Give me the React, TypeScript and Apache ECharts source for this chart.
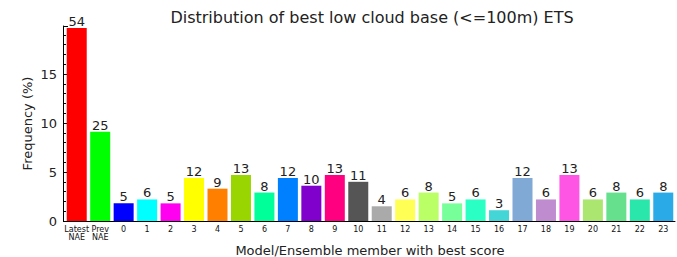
import React, { useEffect, useRef } from "react";
import * as echarts from "echarts";

const categories = ["Latest\nNAE", "Prev\nNAE", "0", "1", "2", "3", "4", "5", "6", "7", "8", "9", "10", "11", "12", "13", "14", "15", "16", "17", "18", "19", "20", "21", "22", "23"];
const frequencies = [19.7, 9.1, 1.8, 2.2, 1.8, 4.4, 3.3, 4.7, 2.9, 4.4, 3.6, 4.7, 4.0, 1.5, 2.2, 2.9, 1.8, 2.2, 1.1, 4.4, 2.2, 4.7, 2.2, 2.9, 2.2, 2.9];
const counts = [54, 25, 5, 6, 5, 12, 9, 13, 8, 12, 10, 13, 11, 4, 6, 8, 5, 6, 3, 12, 6, 13, 6, 8, 6, 8];
const colors = ["#ff0000", "#00ff00", "#0000ff", "#00ffff", "#ff00f0", "#ffff00", "#ff8000", "#99d500", "#00ff99", "#0080ff", "#8000cc", "#ff0080", "#555555", "#aaaaaa", "#ffff55", "#bbff66", "#77ff99", "#2affc4", "#44d6d6", "#80aad5", "#c08cd0", "#ff55e5", "#aae670", "#66e08c", "#2ae6aa", "#2aaae6"];
const yTicks = [0, 5, 10, 15];

const FONT = "DejaVu Sans";

export default function App() {
  const ref = useRef<HTMLDivElement>(null);
  useEffect(() => {
    if (!ref.current) return;
    const chart = echarts.init(ref.current, null, { renderer: "svg" });
    chart.setOption({
      animation: false,
      backgroundColor: "#ffffff",
      textStyle: { fontFamily: FONT },
      title: {
        text: "Distribution of best low cloud base (<=100m) ETS",
        left: 367,
        textAlign: "center",
        top: 4,
        textStyle: { fontFamily: FONT, fontSize: 16, fontWeight: "normal", color: "#222" },
      },
      grid: { left: 65, right: 2, top: 26, bottom: 36, containLabel: false, outerBoundsMode: "none" },
      xAxis: {
        type: "category",
        data: categories,
        name: "Model/Ensemble member with best score",
        nameLocation: "middle",
        nameGap: 22,
        nameMoveOverlap: false,
        nameTextStyle: { fontFamily: FONT, fontSize: 13, color: "#222", lineHeight: 14 },
        axisLine: { lineStyle: { color: "#000", width: 1 } },
        axisTick: { show: true, inside: true, alignWithLabel: true, length: 4, lineStyle: { color: "#000" } },
        axisLabel: {
          interval: 0,
          margin: 4,
          fontFamily: FONT,
          fontSize: 8,
          lineHeight: 8,
          color: "#111",
        },
      },
      yAxis: {
        type: "value",
        min: 0,
        max: 19.9,
        interval: 5,
        offset: 2,
        name: "Frequency (%)",
        nameLocation: "middle",
        nameGap: 29,
        nameRotate: 90,
        nameMoveOverlap: false,
        nameTextStyle: { fontFamily: FONT, fontSize: 13, color: "#222" },
        axisLine: { show: true, lineStyle: { color: "#000", width: 1 } },
        axisTick: { show: true, inside: true, length: 5, lineStyle: { color: "#000" } },
        minorTick: { show: true, splitNumber: 5, length: 3, lineStyle: { color: "#000" } },
        splitLine: { show: false },
        axisLabel: {
          margin: 6,
          fontFamily: FONT,
          fontSize: 13,
          color: "#222",
          formatter: (v: number) => (yTicks.includes(v) ? String(v) : ""),
        },
      },
      series: [
        {
          type: "bar",
          barWidth: 20,
          data: frequencies.map((v, i) => ({ value: v, itemStyle: { color: colors[i] } })),
          label: {
            show: true,
            position: "top",
            distance: 0,
            fontFamily: FONT,
            fontSize: 13,
            color: "#222",
            formatter: (p: any) => String(counts[p.dataIndex]),
          },
        },
      ],
    });
    return () => chart.dispose();
  }, []);
  return <div ref={ref} style={{ position: "fixed", left: 0, top: 0, width: 677, height: 257 }} />;
}
